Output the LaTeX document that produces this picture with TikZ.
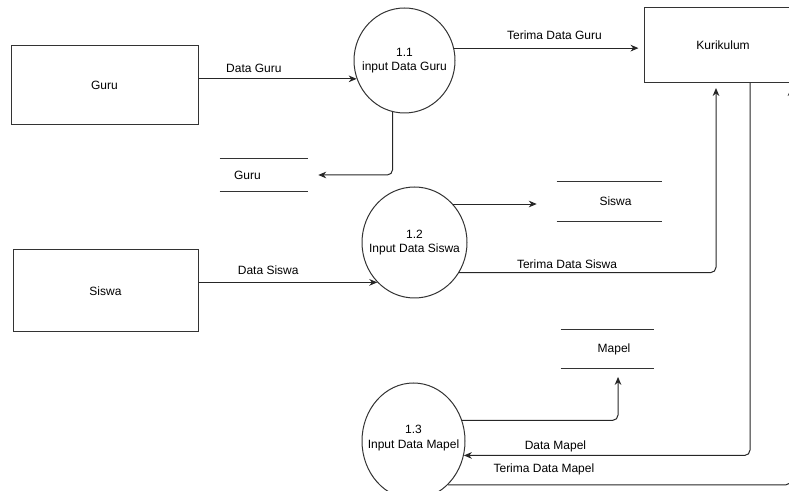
\documentclass[tikz,border=0pt]{standalone}
\usepackage{fontspec}
\setmainfont{Liberation Sans}
\usetikzlibrary{shapes.geometric, arrows.meta}

\tikzset{
  entity/.style = {draw=black!80, line width=0.75pt},
  process/.style = {draw=black!80, ellipse, line width=0.75pt, inner sep=0pt},
  store/.style = {inner sep=0pt},
  flow/.style = {draw=black!85, line width=0.75pt, rounded corners=4pt, -{Stealth[length=6pt, width=5pt]}},
}

\begin{document}
\begin{tikzpicture}[x=0.75pt, y=-0.75pt, font=\fontsize{9pt}{11pt}\selectfont]
\useasboundingbox (0,0) rectangle (789,491);

% External entities
\node[entity, minimum width=140.25pt, minimum height=59.25pt] (eguru) at (104.5,85.5) {Guru};
\node[entity, minimum width=138.75pt, minimum height=61.5pt] (esiswa) at (105.5,291) {Siswa};
\node[entity, minimum width=118.5pt, minimum height=56.25pt] (ekur) at (723,45.5) {Kurikulum};

% Processes
\node[process, minimum width=75.75pt, minimum height=78.75pt, label={[align=center]center:{1.1\\input Data Guru}}] (p11) at (404.5,60.5) {};
\node[process, minimum width=78.75pt, minimum height=83.25pt, label={[align=center]center:{1.2\\Input Data Siswa}}] (p12) at (414.5,242.5) {};
\node[process, minimum width=77.25pt, minimum height=87pt, label={[align=center, yshift=2pt]center:{1.3\\Input Data Mapel}}] (p13) at (413.5,441) {};

% Data stores
\node[store, minimum width=66pt, minimum height=24pt, label={[xshift=-12.4pt]center:Guru}] (dsguru) at (264,175) {};
\node[store, minimum width=78.75pt, minimum height=29.25pt, label={[xshift=4.5pt]center:Siswa}] (dssiswa) at (609.5,201.5) {};
\node[store, minimum width=69.75pt, minimum height=28.5pt, label={[xshift=4.9pt]center:Mapel}] (dsmapel) at (607.5,349) {};
\foreach \s in {dsguru, dssiswa, dsmapel}
  \draw[black!80, line width=0.75pt] (\s.north west) -- (\s.north east) (\s.south west) -- (\s.south east);

% Points on the bottom of Kurikulum
\coordinate (kin1) at (716,83);
\coordinate (kout) at (750,83);
\coordinate (kin2) at (791,83);

% Flows
\draw[flow] (eguru.east |- p11.201.4) -- (p11.201.4) node[pos=0.35, above=1pt] {Data Guru};
\draw[flow, shorten >=3.75pt] (p11.14.3) -- (ekur.west |- p11.14.3) node[pos=0.53, above=3pt] {Terima Data Guru};
\draw[flow, shorten >=7.5pt] (p11.257.3) |- (dsguru.east);

\draw[flow] (esiswa.east |- p12.227) -- (p12.227) node[pos=0.39, above=2pt] {Data Siswa};
\draw[flow, shorten >=15pt] (p12.45.5) -- (dssiswa.west |- p12.45.5);
\draw[flow, shorten >=3.75pt] (p12.326.5) -| (kin1) node[pos=0.21, above=-1pt] {Terima Data Siswa};

\draw[flow, shorten >=6.5pt] (p13.23.6) -| ([xshift=7.9pt]dsmapel.south);
\draw[flow] (kout) |- (p13.344.4) node[pos=0.84, above=-1pt] {Data Mapel};
\draw[flow, shorten >=3.75pt] (p13.308.8) -| (kin2) node[pos=0.14, above=4pt] {Terima Data Mapel};

\end{tikzpicture}
\end{document}
